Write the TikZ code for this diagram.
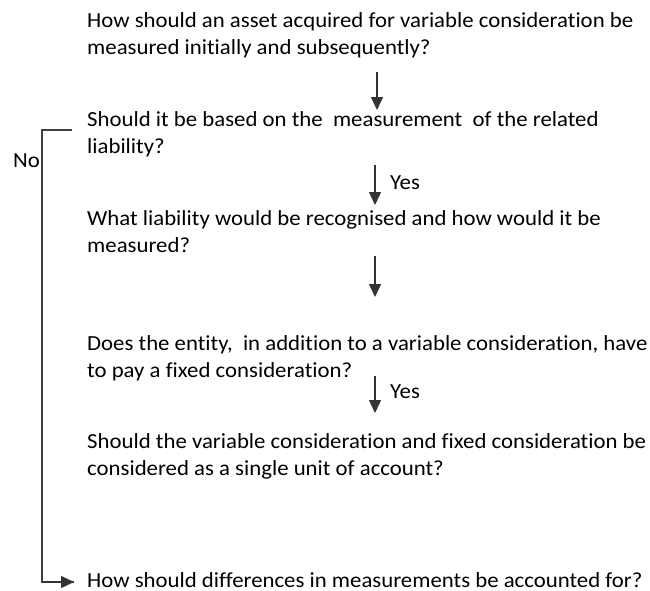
\documentclass[tikz,border=0pt]{standalone}
\usepackage{fontspec}
\setmainfont{Carlito}[FakeStretch=1.06,Ligatures={NoCommon}]
\usetikzlibrary{arrows.meta}
\begin{document}
\begin{tikzpicture}[x=1pt,y=-1pt,
  q/.style={anchor=base west,inner sep=0pt,align=left,font=\fontsize{21.5}{27}\selectfont},
  lbl/.style={anchor=base west,inner sep=0pt,font=\fontsize{21.5}{27}\selectfont},
  arr/.style={draw=black!80,line width=1.3pt,-{Triangle[width=12pt,length=13pt]}},
  brk/.style={draw=black!75,line width=1.6pt}]
\useasboundingbox (0,0) rectangle (650,590);
\node[q] (q1) at (87,54) {How should an asset acquired for variable consideration be\\measured initially and subsequently?};
\node[q] (q2) at (87,153) {Should it be based on the\ \ measurement\ \ of the related\\liability?};
\node[q] (q3) at (87,252) {What liability would be recognised and how would it be\\measured?};
\node[q] (q4) at (87,377) {Does the entity,\ \ in addition to a variable consideration, have\\to pay a fixed consideration?};
\node[q] (q5) at (87,475) {Should the variable consideration and fixed consideration be\\considered as a single unit of account?};
\node[lbl] (q6) at (87,587) {How should differences in measurements be accounted for?};
\node[lbl] (no) at (13,167) {No};
\node[lbl] (y1) at (390,189) {Yes};
\node[lbl] (y2) at (390,398) {Yes};
\coordinate (a1s) at (377,72);  \coordinate (a1e) at (377,110);
\coordinate (a2s) at (375,165); \coordinate (a2e) at (375,205);
\coordinate (a3s) at (375,256); \coordinate (a3e) at (375,297);
\coordinate (a4s) at (375,376); \coordinate (a4e) at (375,413);
\draw[arr] (a1s) -- (a1e);
\draw[arr] (a2s) -- (a2e);
\draw[arr] (a3s) -- (a3e);
\draw[arr] (a4s) -- (a4e);
\coordinate (b1) at (72,130);
\coordinate (b2) at (42,130);
\coordinate (b3) at (42,582);
\coordinate (b4) at (74,582);
\draw[brk] (b1) -- (b2) -- (b3) -- (b4);
\draw[arr] (b3) -- (b4);
\end{tikzpicture}
\end{document}
